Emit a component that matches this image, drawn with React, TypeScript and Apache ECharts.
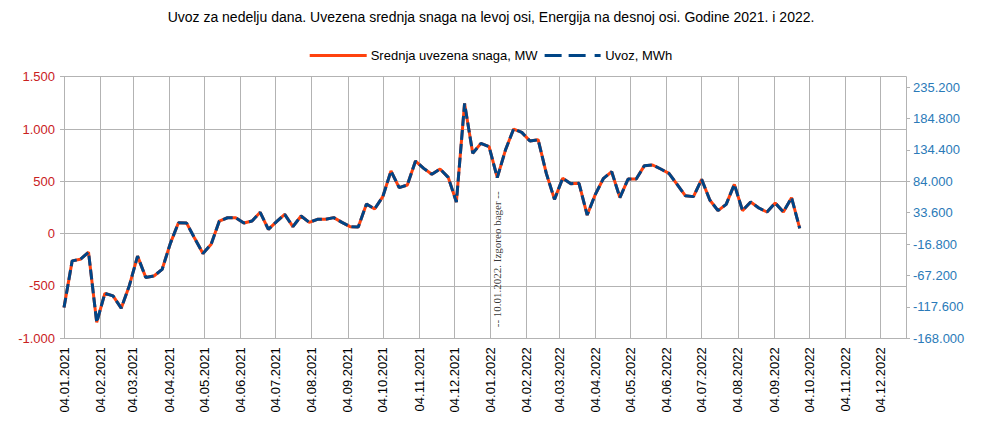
import React, { useEffect, useRef } from 'react';
import * as echarts from 'echarts';

const weeks = [
  '2021-01-04', '2021-01-11', '2021-01-18', '2021-01-25', '2021-02-01', '2021-02-08', '2021-02-15', '2021-02-22',
  '2021-03-01', '2021-03-08', '2021-03-15', '2021-03-22', '2021-03-29', '2021-04-05', '2021-04-12', '2021-04-19',
  '2021-04-26', '2021-05-03', '2021-05-10', '2021-05-17', '2021-05-24', '2021-05-31', '2021-06-07', '2021-06-14',
  '2021-06-21', '2021-06-28', '2021-07-05', '2021-07-12', '2021-07-19', '2021-07-26', '2021-08-02', '2021-08-09',
  '2021-08-16', '2021-08-23', '2021-08-30', '2021-09-06', '2021-09-13', '2021-09-20', '2021-09-27', '2021-10-04',
  '2021-10-11', '2021-10-18', '2021-10-25', '2021-11-01', '2021-11-08', '2021-11-15', '2021-11-22', '2021-11-29',
  '2021-12-06', '2021-12-13', '2021-12-20', '2021-12-27', '2022-01-03', '2022-01-10', '2022-01-17', '2022-01-24',
  '2022-01-31', '2022-02-07', '2022-02-14', '2022-02-21', '2022-02-28', '2022-03-07', '2022-03-14', '2022-03-21',
  '2022-03-28', '2022-04-04', '2022-04-11', '2022-04-18', '2022-04-25', '2022-05-02', '2022-05-09', '2022-05-16',
  '2022-05-23', '2022-05-30', '2022-06-06', '2022-06-13', '2022-06-20', '2022-06-27', '2022-07-04', '2022-07-11',
  '2022-07-18', '2022-07-25', '2022-08-01', '2022-08-08', '2022-08-15', '2022-08-22', '2022-08-29', '2022-09-05',
  '2022-09-12', '2022-09-19', '2022-09-26',
];

const avgPowerMW = [
  -706, -260, -245, -177, -848, -570, -595, -712,
  -495, -215, -418, -405, -342, -95, 104, 101,
  -47, -190, -101, 120, 152, 152, 102, 121,
  204, 41, 115, 185, 67, 169, 108, 137,
  137, 153, 108, 67, 64, 283, 236, 354,
  599, 440, 465, 694, 624, 567, 618, 538,
  302, 1245, 768, 863, 831, 535, 799, 1000,
  968, 885, 898, 576, 328, 529, 478, 481,
  178, 376, 529, 592, 344, 522, 522, 650,
  656, 618, 576, 471, 363, 354, 519, 322,
  220, 280, 471, 220, 303, 245, 207, 293,
  207, 344, 51,
];

const energyMWh = [
  -118608, -43680, -41160, -29736, -142464, -95760, -99960, -119616,
  -83160, -36120, -70224, -68040, -57456, -15960, 17472, 16968,
  -7896, -31920, -16968, 20160, 25536, 25536, 17136, 20328,
  34272, 6888, 19320, 31080, 11256, 28392, 18144, 23016,
  23016, 25704, 18144, 11256, 10752, 47544, 39648, 59472,
  100632, 73920, 78120, 116592, 104832, 95256, 103824, 90384,
  50736, 209160, 129024, 144984, 139608, 89880, 134232, 168000,
  162624, 148680, 150864, 96768, 55104, 88872, 80304, 80808,
  29904, 63168, 88872, 99456, 57792, 87696, 87696, 109200,
  110208, 103824, 96768, 79128, 60984, 59472, 87192, 54096,
  36960, 47040, 79128, 36960, 50904, 41160, 34776, 49224,
  34776, 57792, 8568,
];

const monthTicks = [
  '2021-01-04', '2021-02-04', '2021-03-04', '2021-04-04', '2021-05-04', '2021-06-04',
  '2021-07-04', '2021-08-04', '2021-09-04', '2021-10-04', '2021-11-04', '2021-12-04',
  '2022-01-04', '2022-02-04', '2022-03-04', '2022-04-04', '2022-05-04', '2022-06-04',
  '2022-07-04', '2022-08-04', '2022-09-04', '2022-10-04', '2022-11-04', '2022-12-04',
];

const rightTicks = [-168000, -117600, -67200, -16800, 33600, 84000, 134400, 184800, 235200];

const xStart = '2021-01-04';
const xEnd = '2022-12-26';
const eventDate = '2022-01-10';
const eventLevel = -245;
const eventLabel = '-- 10.01.2022. Izgoreo bager --';

const titleText = 'Uvoz za nedelju dana. Uvezena srednja snaga na levoj osi, Energija na desnoj osi. Godine 2021. i 2022.';
const seriesNames = ['Srednja uvezena snaga, MW', 'Uvoz, MWh'];

const FONT = 'Liberation Sans, Arial, sans-serif';
const GRID = '#b3b3b3';
const ORANGE = '#ff420e';
const BLUE = '#004586';

function toTs(s: string): number {
  const [y, m, d] = s.split('-').map(Number);
  return Date.UTC(y, m - 1, d);
}

function fmtThousands(v: number): string {
  const s = Math.abs(Math.round(v)).toString().replace(/\B(?=(\d{3})+(?!\d))/g, '.');
  return (v < 0 ? '-' : '') + s;
}

function fmtDate(v: number): string {
  const d = new Date(v);
  const dd = String(d.getUTCDate()).padStart(2, '0');
  const mm = String(d.getUTCMonth() + 1).padStart(2, '0');
  return `${dd}.${mm}.${d.getUTCFullYear()}`;
}

export default function App() {
  const ref = useRef<HTMLDivElement>(null);

  useEffect(() => {
    if (!ref.current) return;
    const chart = echarts.init(ref.current, null, { renderer: 'svg' });
    const tickTs = monthTicks.map(toTs);

    chart.setOption({
      animation: false,
      backgroundColor: '#ffffff',
      title: {
        text: titleText,
        left: 'center',
        top: 10,
        padding: 0,
        textStyle: { fontSize: 14, fontWeight: 'normal', color: '#000', fontFamily: FONT },
      },
      legend: {
        data: [
          { name: seriesNames[0], icon: 'rect' },
          { name: seriesNames[1], icon: 'path://M0,0h17v3h-17zM24,0h17v3h-17zM50,0h6v3h-6z' },
        ],
        top: 49,
        left: 'center',
        padding: 0,
        itemWidth: 57,
        itemHeight: 3,
        itemGap: 7,
        textStyle: { fontSize: 13, color: '#000', fontFamily: FONT, padding: [0, 0, 0, -1] },
      },
      grid: { left: 64, right: 76, top: 76.7, bottom: 82.7, containLabel: false },
      xAxis: {
        type: 'value',
        min: toTs(xStart),
        max: toTs(xEnd),
        axisLine: { show: true, onZero: false, lineStyle: { color: GRID } },
        axisTick: { show: false, customValues: tickTs },
        axisLabel: {
          customValues: tickTs,
          rotate: 90,
          formatter: (v: number) => fmtDate(v),
          color: '#000',
          fontSize: 13,
          fontFamily: FONT,
          margin: 9,
        },
        splitLine: { show: true, lineStyle: { color: GRID, width: 1 } },
      },
      yAxis: [
        {
          type: 'value',
          position: 'left',
          min: -1000,
          max: 1500,
          interval: 500,
          axisLine: { show: true, lineStyle: { color: GRID } },
          axisTick: { show: true, length: 4, lineStyle: { color: GRID } },
          axisLabel: {
            formatter: (v: number) => fmtThousands(v),
            color: '#c9211e',
            fontSize: 13,
            fontFamily: FONT,
            margin: 9,
          },
          splitLine: { show: true, lineStyle: { color: GRID, width: 1 } },
        },
        {
          type: 'value',
          position: 'right',
          min: -168000,
          max: 252000,
          axisLine: { show: true, lineStyle: { color: GRID } },
          axisTick: { show: true, length: 4, lineStyle: { color: GRID }, customValues: rightTicks },
          axisLabel: {
            customValues: rightTicks,
            formatter: (v: number) => fmtThousands(v),
            color: '#2a7ab8',
            fontSize: 13,
            fontFamily: FONT,
            margin: 7,
          },
          splitLine: { show: false },
        },
      ],
      series: [
        {
          name: seriesNames[0],
          type: 'line',
          yAxisIndex: 0,
          data: weeks.map((d, i) => [toTs(d), avgPowerMW[i]]),
          symbol: 'none',
          lineStyle: { color: ORANGE, width: 3 },
          itemStyle: { color: ORANGE },
          z: 2,
        },
        {
          name: seriesNames[1],
          type: 'line',
          yAxisIndex: 1,
          data: weeks.map((d, i) => [toTs(d), energyMWh[i]]),
          symbol: 'none',
          lineStyle: { color: BLUE, width: 3, type: [10, 4] },
          itemStyle: { color: BLUE },
          z: 3,
        },
        {
          name: 'event',
          type: 'scatter',
          yAxisIndex: 0,
          data: [[toTs(eventDate), eventLevel]],
          symbolSize: 0,
          silent: true,
          z: 4,
          label: {
            show: true,
            position: 'inside',
            rotate: 90,
            formatter: eventLabel,
            color: '#000',
            fontSize: 11,
            fontFamily: 'Liberation Serif, DejaVu Serif, serif',
          },
        },
      ],
    });

    return () => chart.dispose();
  }, []);

  return (
    <div
      ref={ref}
      style={{ position: 'fixed', left: 0, top: 0, width: 982, height: 421, background: '#fff' }}
    />
  );
}
